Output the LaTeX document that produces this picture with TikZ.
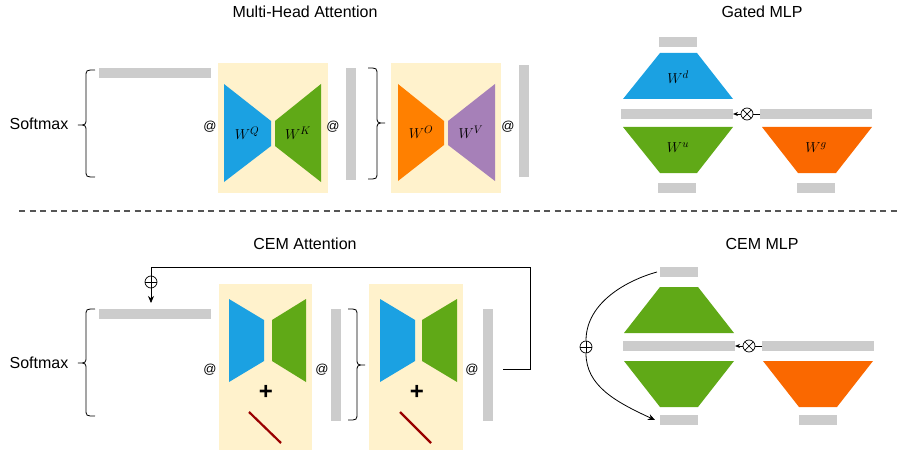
\documentclass[tikz,border=0pt]{standalone}
\usepackage{fontspec}
\setmainfont{Liberation Sans}
\usetikzlibrary{arrows.meta}
\definecolor{cblue}{HTML}{1BA1E2}
\definecolor{cgreen}{HTML}{60A917}
\definecolor{corange}{HTML}{FF8000}
\definecolor{cpurple}{HTML}{A680B8}
\definecolor{cortwo}{HTML}{FA6800}
\definecolor{cyel}{HTML}{FFF2CC}
\definecolor{cgray}{HTML}{CCCCCC}
\definecolor{cred}{HTML}{990000}
\definecolor{cdash}{HTML}{555555}
\begin{document}
\begin{tikzpicture}[x=1pt,y=-1pt,
  title/.style={font=\fontsize{16}{19}\selectfont, anchor=base, inner sep=0pt},
  atsign/.style={font=\fontsize{13}{15}\selectfont, inner sep=0pt},
  wlab/.style={font=\fontsize{15}{17}\selectfont, inner sep=0pt},
  plusmark/.style={font=\fontsize{24}{24}\selectfont\bfseries, inner sep=0pt},
  hbar/.style={fill=cgray, draw=none, inner sep=0pt, outer sep=0pt, minimum width=112pt, minimum height=10pt},
  vbar/.style={fill=cgray, draw=none, inner sep=0pt, outer sep=0pt, minimum width=10pt, minimum height=112pt},
  sbar/.style={fill=cgray, draw=none, inner sep=0pt, outer sep=0pt, minimum width=38pt, minimum height=10pt},
  bgbox/.style={fill=cyel, draw=none},
  bracepath/.style={line width=0.8pt, draw=black},
  conn/.style={line width=0.8pt, draw=black},
  arr/.style={-{Stealth[length=7pt,width=6pt]}},
  opplus/.style={circle, draw, line width=0.7pt, minimum size=12pt, inner sep=0pt,
    path picture={\draw[line width=0.7pt] (path picture bounding box.north) -- (path picture bounding box.south)
      (path picture bounding box.west) -- (path picture bounding box.east);}},
  optimes/.style={circle, draw, line width=0.7pt, minimum size=12pt, inner sep=0pt,
    path picture={\draw[line width=0.7pt] (path picture bounding box.north west) -- (path picture bounding box.south east)
      (path picture bounding box.north east) -- (path picture bounding box.south west);}},
  diagline/.style={draw=cred, line width=2.2pt}
]
\useasboundingbox (0,0) rectangle (898,452);

% ---------------- Multi-Head Attention ----------------
\node[title] (t1) at (305,18) {Multi-Head Attention};
\node[title] (sm1) at (39,129) {Softmax};
\draw[bracepath] (95,70) .. controls (86,70) .. (86,77) -- (86,118)
  .. controls (86,125) .. (78,125) .. controls (86,125) .. (86,132) -- (86,170)
  .. controls (86,177) .. (95,177);
\node[hbar] (mhq) at (155,73) {};
\node[atsign] (at1) at (210,127) {@};
\fill[bgbox] (218,63) rectangle (328,193);
\fill[cblue] (224,84) -- (271,121) -- (271,146) -- (224,182) -- cycle;
\fill[cgreen] (275,121) -- (321,84) -- (321,182) -- (275,146) -- cycle;
\node[wlab] (wq) at (247,133) {$W^Q$};
\node[wlab] (wk) at (298,133) {$W^K$};
\node[atsign] (at2) at (333,127) {@};
\node[vbar] (mhv1) at (351,124) {};
\draw[bracepath] (368,68) .. controls (377,68) .. (377,75) -- (377,116)
  .. controls (377,123) .. (385,123) .. controls (377,123) .. (377,130) -- (377,172)
  .. controls (377,179) .. (368,179);
\fill[bgbox] (391,63) rectangle (501,193);
\fill[corange] (398,84) -- (444,121) -- (444,145) -- (398,181) -- cycle;
\fill[cpurple] (448,121) -- (495,84) -- (495,181) -- (448,145) -- cycle;
\node[wlab] (wo) at (421,132) {$W^O$};
\node[wlab] (wv) at (471,132) {$W^V$};
\node[atsign] (at3) at (508,127) {@};
\node[vbar] (mhv2) at (524,121) {};

% ---------------- Gated MLP ----------------
\node[title] (t2) at (762,18) {Gated MLP};
\node[sbar] (gtop) at (678,42) {};
\fill[cblue] (660,53) -- (697,53) -- (733,99) -- (623,99) -- cycle;
\node[wlab] (wd) at (678,77) {$W^d$};
\node[hbar] (gmid) at (677,114) {};
\node[optimes] (gx) at (747,114) {};
\node[hbar] (gright) at (816,114) {};
\fill[cgreen] (623,127) -- (733,127) -- (697,173) -- (660,173) -- cycle;
\node[wlab] (wu) at (678,148) {$W^u$};
\fill[cortwo] (762,127) -- (872,127) -- (836,173) -- (798,173) -- cycle;
\node[wlab] (wg) at (816,148) {$W^g$};
\node[sbar] (gb1) at (677,188) {};
\node[sbar] (gb2) at (816,188) {};
\draw[conn] (gright.west) -- (gx.east);
\draw[conn,-{Stealth[length=5pt,width=4pt]}] (gx.west) -- (gmid.east);

% ---------------- separator ----------------
\draw[cdash, line width=1.2pt, dash pattern=on 6pt off 4.5pt] (19,211) -- (898,211);

% ---------------- CEM Attention ----------------
\node[title] (t3) at (305,249) {CEM Attention};
\node[title] (sm2) at (39,368) {Softmax};
\draw[bracepath] (95,309) .. controls (86,309) .. (86,316) -- (86,356)
  .. controls (86,363) .. (78,363) .. controls (86,363) .. (86,370) -- (86,409)
  .. controls (86,416) .. (95,416);
\node[hbar] (cq) at (155,314) {};
\node[atsign] (cat1) at (210,370) {@};
\fill[bgbox] (219,284) rectangle (312,450);
\fill[cblue] (229,299) -- (264,320) -- (264,361) -- (229,382) -- cycle;
\fill[cgreen] (272,320) -- (306,299) -- (306,382) -- (272,361) -- cycle;
\node[plusmark] (p1) at (266,392) {+};
\draw[diagline] (249,412) -- (281,443);
\node[atsign] (cat2) at (322,370) {@};
\node[vbar] (cv1) at (336,365) {};
\draw[bracepath] (348,309) .. controls (357,309) .. (357,316) -- (357,358)
  .. controls (357,365) .. (365,365) .. controls (357,365) .. (357,372) -- (357,413)
  .. controls (357,420) .. (348,420);
\fill[bgbox] (369,284) rectangle (463,450);
\fill[cblue] (380,299) -- (415,320) -- (415,361) -- (380,382) -- cycle;
\fill[cgreen] (422,320) -- (457,299) -- (457,382) -- (422,361) -- cycle;
\node[plusmark] (p2) at (417,392) {+};
\draw[diagline] (400,412) -- (431,443);
\node[atsign] (cat3) at (472,370) {@};
\node[vbar] (cv2) at (488,365) {};
\coordinate (ls) at (503,369);
\node[opplus] (cadd) at (151,282) {};
\draw[conn] (ls) -- (530,369) -- (530,267) -- (151,267) -- (cadd.north);
\draw[conn,arr] (cadd.south) -- ([yshift=6pt]cq.north -| cadd);

% ---------------- CEM MLP ----------------
\node[title] (t4) at (762,249) {CEM MLP};
\node[sbar] (mtop) at (679,272) {};
\fill[cgreen] (660,287) -- (698,287) -- (734,333) -- (624,333) -- cycle;
\node[hbar] (mmid) at (679,346) {};
\node[optimes] (mx) at (749,346) {};
\node[hbar] (mright) at (818,346) {};
\fill[cgreen] (624,361) -- (734,361) -- (698,407) -- (660,407) -- cycle;
\fill[cortwo] (763,361) -- (873,361) -- (837,407) -- (799,407) -- cycle;
\node[sbar] (mb1) at (679,420) {};
\node[sbar] (mb2) at (818,420) {};
\draw[conn] (mright.west) -- (mx.east);
\draw[conn,-{Stealth[length=5pt,width=4pt]}] (mx.west) -- (mmid.east);
\node[opplus] (madd) at (586,347) {};
\draw[conn] ([xshift=-3pt]mtop.west) .. controls (628,280) and (586,302) .. (madd.north);
\draw[conn,arr] (madd.south) .. controls (586,386) and (616,402) .. ([xshift=-5pt]mb1.west);
\end{tikzpicture}
\end{document}
